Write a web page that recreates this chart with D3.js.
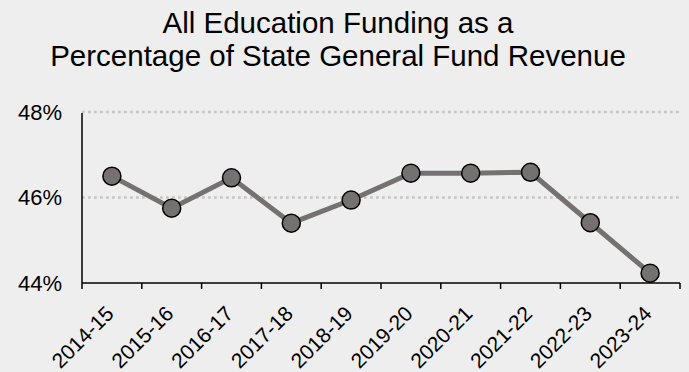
<!DOCTYPE html>
<html>
<head>
<meta charset="utf-8">
<script src="https://cdn.jsdelivr.net/npm/d3@7"></script>
<style>
  body { margin: 0; background: #eeeeee; }
  svg { display: block; font-family: "Liberation Sans", Arial, sans-serif; }
</style>
</head>
<body>
<div id="chart"></div>
<script>
var years = ["2014-15", "2015-16", "2016-17", "2017-18", "2018-19",
             "2019-20", "2020-21", "2021-22", "2022-23", "2023-24"];
var share = [46.50, 45.75, 46.46, 45.40, 45.94, 46.57, 46.57, 46.59, 45.41, 44.23];
var yTicks = [44, 46, 48];
var titleLines = ["All Education Funding as a", "Percentage of State General Fund Revenue"];

var width = 689, height = 372;
var margin = {top: 112, right: 9, bottom: 89, left: 82};

var svg = d3.select('#chart').append('svg')
    .attr('width', width)
    .attr('height', height);

svg.append('rect')
    .attr('width', width)
    .attr('height', height)
    .attr('fill', '#eeeeee');

var x = d3.scaleBand()
    .domain(years)
    .range([margin.left, width - margin.right]);

var y = d3.scaleLinear()
    .domain([44, 48])
    .range([height - margin.bottom, margin.top]);

// title
svg.append('g').selectAll('text')
  .data(titleLines)
  .enter().append('text')
    .attr('x', 338)
    .attr('y', function(d, i) { return 32.5 + i * 33.5; })
    .attr('text-anchor', 'middle')
    .attr('font-size', 29.5)
    .attr('fill', '#000')
    .text(function(d) { return d; });

// gridlines (skip the baseline)
svg.append('g').selectAll('line')
  .data(yTicks.filter(function(d) { return d > 44; }))
  .enter().append('line')
    .attr('x1', x.range()[0])
    .attr('x2', x.range()[1])
    .attr('y1', y)
    .attr('y2', y)
    .attr('stroke', '#c4c4c4')
    .attr('stroke-width', 2.5)
    .attr('stroke-dasharray', '2.7,3.3');

// y axis labels
svg.append('g').selectAll('text')
  .data(yTicks)
  .enter().append('text')
    .attr('x', 62)
    .attr('y', y)
    .attr('dy', '0.36em')
    .attr('text-anchor', 'end')
    .attr('font-size', 22)
    .text(function(d) { return d + '%'; });

// y axis line
svg.append('line')
    .attr('x1', margin.left).attr('x2', margin.left)
    .attr('y1', y(48) + 1).attr('y2', y(44))
    .attr('stroke', '#000').attr('stroke-width', 1.5);

// x axis
var xAxis = svg.append('g')
    .attr('transform', 'translate(0,' + y(44) + ')');

xAxis.append('line')
    .attr('x1', x.range()[0]).attr('x2', x.range()[1])
    .attr('stroke', '#000').attr('stroke-width', 1.5);

var bounds = years.map(function(d) { return x(d); }).concat([x.range()[1]]);
xAxis.selectAll('line.tick')
  .data(bounds)
  .enter().append('line')
    .attr('class', 'tick')
    .attr('x1', function(d) { return d; })
    .attr('x2', function(d) { return d; })
    .attr('y1', 0).attr('y2', 6)
    .attr('stroke', '#000').attr('stroke-width', 1.5);

xAxis.selectAll('text')
  .data(years)
  .enter().append('text')
    .attr('text-anchor', 'end')
    .attr('font-size', 21)
    .attr('transform', function(d) {
      return 'translate(' + (x(d) + x.bandwidth() / 2 + 3) + ',32) rotate(-45)';
    })
    .text(function(d) { return d; });

// line + markers
var line = d3.line()
    .x(function(d, i) { return x(years[i]) + x.bandwidth() / 2; })
    .y(function(d) { return y(d); });

svg.append('path')
    .datum(share)
    .attr('d', line)
    .attr('fill', 'none')
    .attr('stroke', '#767171')
    .attr('stroke-width', 5);

svg.append('g').selectAll('circle')
  .data(share)
  .enter().append('circle')
    .attr('cx', function(d, i) { return x(years[i]) + x.bandwidth() / 2; })
    .attr('cy', y)
    .attr('r', 9)
    .attr('fill', '#767171')
    .attr('stroke', '#000')
    .attr('stroke-width', 1.5);
</script>
</body>
</html>
